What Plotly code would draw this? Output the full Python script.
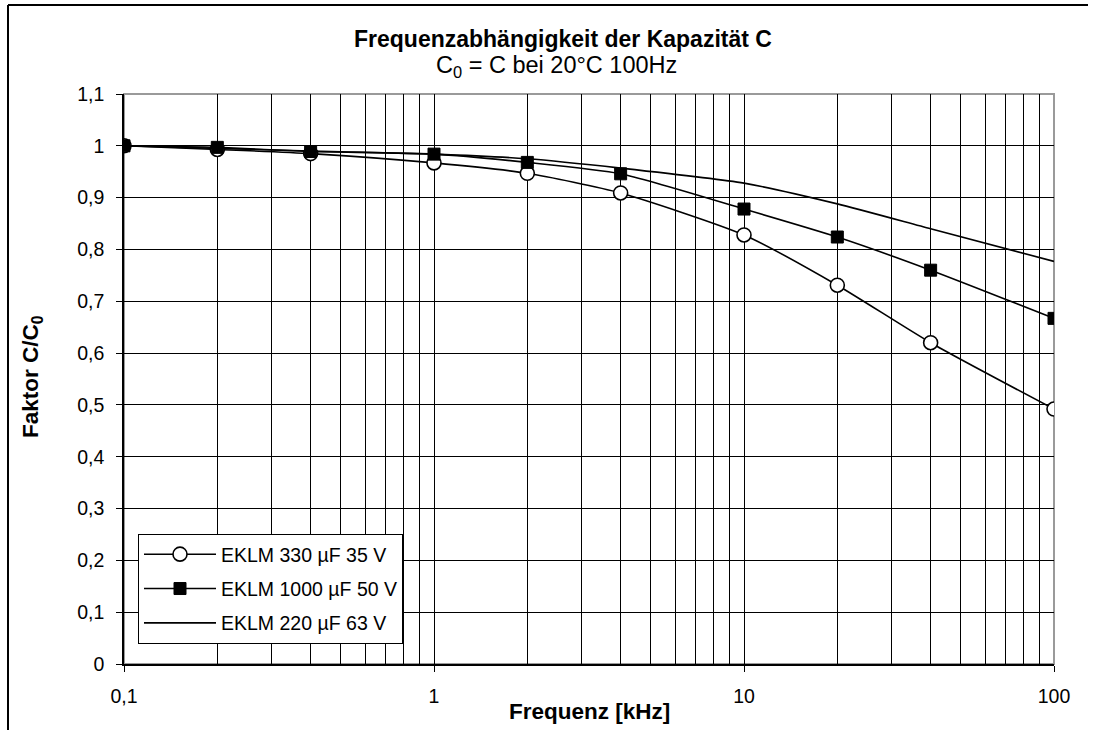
import plotly.graph_objects as go

# ---- data ----
freq_khz = [0.1, 0.2, 0.4, 1, 2, 4, 10, 20, 40, 100]
eklm_330_35 = [1.0, 0.993, 0.985, 0.967, 0.947, 0.909, 0.828, 0.731, 0.620, 0.492]
eklm_1000_50 = [1.0, 0.997, 0.989, 0.984, 0.968, 0.946, 0.878, 0.824, 0.760, 0.667]
eklm_220_63 = [1.0, 0.995, 0.990, 0.984, 0.975, 0.957, 0.928, 0.888, 0.840, 0.777]
series_names = ["EKLM 330 µF 35 V", "EKLM 1000 µF 50 V", "EKLM 220 µF 63 V"]

x_tickvals = [0.1, 1, 10, 100]
x_ticktext = ["0,1", "1", "10", "100"]
x_minor = [m * d for d in [0.1, 1, 10] for m in range(2, 10)]
y_tickvals = [i / 10 for i in range(12)]
y_ticktext = ["0", "0,1", "0,2", "0,3", "0,4", "0,5", "0,6", "0,7", "0,8", "0,9", "1", "1,1"]

FONT = "Liberation Sans, Arial, sans-serif"

# ---- figure geometry (pixels) ----
W, H = 1098, 730
L, R, T, B = 124, 1054, 94, 664
pw, ph = R - L, B - T


def px(x):
    return (x - L) / pw


def py(y):
    return (B - y) / ph


fig = go.Figure()

fig.add_trace(go.Scatter(
    x=freq_khz, y=eklm_330_35, name=series_names[0], mode="lines+markers",
    line=dict(color="black", width=1.6, shape="spline", smoothing=0.6),
    marker=dict(symbol="circle", size=14, color="white", line=dict(color="black", width=1.6)),
    legendgroup="a",
))
fig.add_trace(go.Scatter(
    x=freq_khz, y=eklm_1000_50, name=series_names[1], mode="lines+markers",
    line=dict(color="black", width=1.6, shape="spline", smoothing=0.6),
    marker=dict(symbol="square", size=12, color="black", line=dict(color="black", width=1)),
    legendgroup="b",
))
fig.add_trace(go.Scatter(
    x=freq_khz, y=eklm_220_63, name=series_names[2], mode="lines",
    line=dict(color="black", width=1.6, shape="spline", smoothing=0.6),
    legendgroup="c",
))

# plot area frame (grey top/right)
fig.add_shape(type="rect", xref="paper", yref="paper", x0=0, x1=1, y0=0, y1=1,
              line=dict(color="#9a9a9a", width=2), layer="below")
# outer chart border
fig.add_shape(type="line", xref="paper", yref="paper", x0=px(8), x1=px(8), y0=py(5), y1=py(740),
              line=dict(color="black", width=2))
fig.add_shape(type="line", xref="paper", yref="paper", x0=px(8), x1=px(1088), y0=py(5), y1=py(5),
              line=dict(color="black", width=2))

# titles
fig.add_annotation(text="<b>Frequenzabhängigkeit der Kapazität C</b>", xref="paper", yref="paper",
                   x=px(563), y=py(39), showarrow=False, xanchor="center", yanchor="middle",
                   font=dict(family=FONT, size=23, color="black"))
fig.add_annotation(text="C<sub>0</sub> = C bei 20°C 100Hz", xref="paper", yref="paper",
                   x=px(556), y=py(66), showarrow=False, xanchor="center", yanchor="middle",
                   font=dict(family=FONT, size=23.5, color="black"))
fig.add_annotation(text="<b>Frequenz [kHz]</b>", xref="paper", yref="paper",
                   x=px(589), y=py(711), showarrow=False, xanchor="center", yanchor="middle",
                   font=dict(family=FONT, size=22.5, color="black"))
fig.add_annotation(text="<b>Faktor C/C<sub>0</sub></b>", xref="paper", yref="paper",
                   x=px(32), y=py(377), showarrow=False, xanchor="center", yanchor="middle",
                   textangle=-90, font=dict(family=FONT, size=22.5, color="black"))

fig.update_xaxes(
    type="log", range=[-1, 2],
    tickmode="array", tickvals=x_tickvals, ticktext=x_ticktext,
    ticks="outside", ticklen=6, tickcolor="black", tickwidth=1,
    showgrid=True, gridcolor="black", gridwidth=1,
    minor=dict(tickmode="array", tickvals=x_minor, showgrid=True, gridcolor="black", gridwidth=1, ticks=""),
    showline=True, linecolor="black", linewidth=1.5,
    zeroline=False, ticklabelstandoff=8,
    tickfont=dict(family=FONT, size=19.5, color="black"),
)
fig.update_yaxes(
    range=[0, 1.1],
    tickmode="array", tickvals=y_tickvals, ticktext=y_ticktext,
    ticks="outside", ticklen=6, tickcolor="black", tickwidth=1,
    showgrid=True, gridcolor="black", gridwidth=1,
    showline=True, linecolor="black", linewidth=1.5,
    zeroline=False, ticklabelstandoff=8,
    tickfont=dict(family=FONT, size=19.5, color="black"),
)

fig.update_layout(
    width=W, height=H,
    margin=dict(l=L, r=W - R, t=T, b=H - B, autoexpand=False),
    paper_bgcolor="white", plot_bgcolor="white",
    font=dict(family=FONT, color="black"),
    showlegend=True,
    legend=dict(
        x=px(138), y=py(534), xanchor="left", yanchor="top",
        bgcolor="white", bordercolor="black", borderwidth=1,
        font=dict(family=FONT, size=19.5, color="black"),
        tracegroupgap=6, itemwidth=72,
    ),
)

fig.write_html(
    "out.html",
    config={"displayModeBar": False},
    post_script="document.body.style.margin='0';document.body.style.overflow='hidden';",
)
